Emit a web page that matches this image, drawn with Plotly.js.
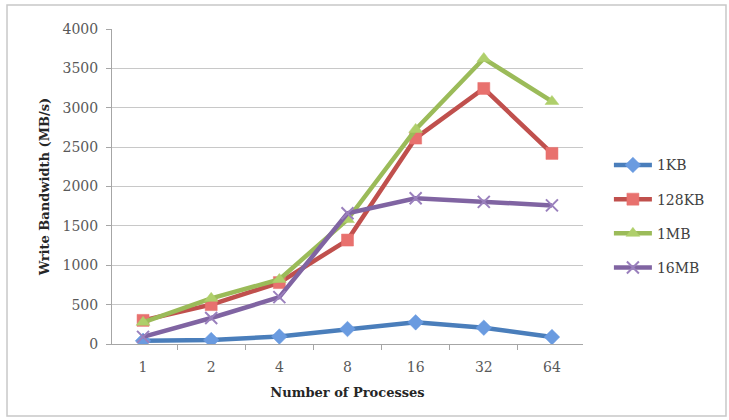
<!DOCTYPE html>
<html><head><meta charset="utf-8">
<script src="https://cdn.plot.ly/plotly-3.0.1.min.js"></script>
<style>html,body{margin:0;padding:0;background:#fff;}#c{width:729px;height:420px;}</style>
</head><body><div id="c"></div>
<script>
const processes = ['1','2','4','8','16','32','64'];
const seriesNames = ['1KB','128KB','1MB','16MB'];
const kb1   = [40, 50, 95, 190, 275, 207, 88];
const kb128 = [300, 500, 780, 1320, 2615, 3245, 2420];
const mb1   = [275, 580, 820, 1580, 2725, 3625, 3080];
const mb16  = [90, 330, 595, 1660, 1850, 1805, 1760];
const colors = ['#4a7ebb','#c0504d','#9bbb59','#8064a2'];
const markerColors = ['#6a9be0','#e8716e','#afcf6b','#9a80bd'];
const symbols = ['diamond','square','triangle-up','x-thin'];
const values = [kb1, kb128, mb1, mb16];

const traces = values.map((v,i)=>({
  x: processes, y: v, name: seriesNames[i], type:'scatter', mode:'lines+markers',
  legendgroup:'g'+i,
  line:{color:colors[i], width:4.5},
  marker:{symbol:symbols[i], size:12, color:markerColors[i],
    line:{color: i===3? '#9a80bd' : markerColors[i], width: i===3?2:0.5}}
}));

const font = 'DejaVu Serif, serif';
const layout = {
  width:729, height:420,
  margin:{l:112, r:146, t:29, b:76},
  paper_bgcolor:'#fff', plot_bgcolor:'#fff',
  showlegend:true,
  legend:{x:1.055, y:0.618, xanchor:'left', yanchor:'top', font:{family:font, size:14, color:'#404040'},
    itemwidth:38, tracegroupgap:13, bgcolor:'rgba(0,0,0,0)'},
  xaxis:{type:'category', tickson:'boundaries', ticks:'outside', ticklen:5, tickcolor:'#a6a6a6',
    showline:true, linecolor:'#a6a6a6', linewidth:1, showgrid:false, zeroline:false,
    ticklabelstandoff:10,
    tickfont:{family:font, size:14, color:'#595959'},
    title:{text:'<b>Number of Processes</b>', font:{family:font, size:13, color:'#262626'}, standoff:14}},
  yaxis:{range:[0,4000], dtick:500, ticks:'outside', ticklen:5, tickcolor:'#a6a6a6',
    showline:true, linecolor:'#a6a6a6', linewidth:1, showgrid:true, gridcolor:'#c8c8c8', gridwidth:1,
    ticklabelstandoff:5,
    zeroline:false, tickfont:{family:font, size:14, color:'#595959'},
    title:{text:'<b>Write Bandwidth (MB/s)</b>', font:{family:font, size:13, color:'#262626'}, standoff:10}},
  shapes:[{type:'rect', xref:'paper', yref:'paper', x0:-0.2229, x1:1.3036, y0:-0.2285, y1:1.0762,
    line:{color:'#c8c8c8', width:1.5}, fillcolor:'rgba(0,0,0,0)', layer:'below'}]
};
Plotly.newPlot('c', traces, layout, {staticPlot:true, displayModeBar:false});
</script></body></html>
